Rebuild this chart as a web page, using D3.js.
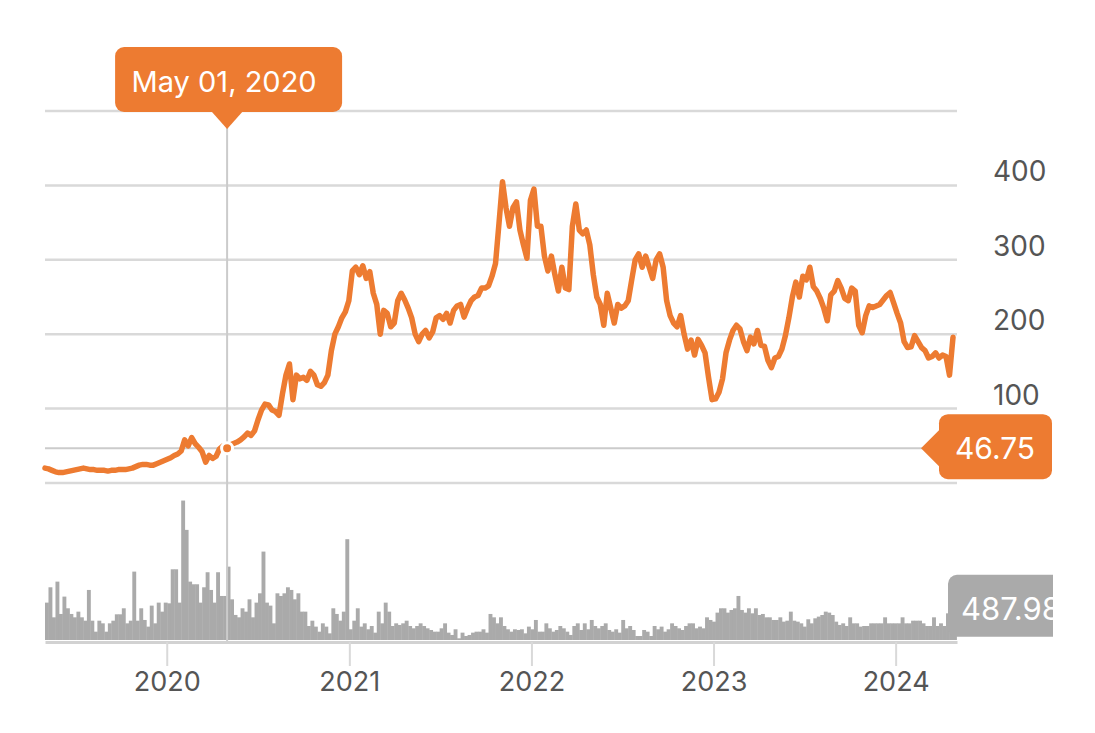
<!DOCTYPE html>
<html><head><meta charset="utf-8">
<script src="https://cdn.jsdelivr.net/npm/d3@7"></script>
<style>html,body{margin:0;padding:0;background:#fff;} svg{display:block;font-family:Inter,"Open Sans",sans-serif;}</style>
</head><body>
<svg id="chart" width="1095" height="733"></svg>
<script>
// ---- data (weekly, starting at startDate) ----
const startDate = "2019-05-02";
const endDate = "2024-05-03";
const priceValues = [
20,19,17,15,14,14,15,16,17,18,
19,20,19,18,18,17,17,17,16,17,
17,18,18,18,19,20,22,24,25,25,
24,24,26,28,30,32,34,37,39,43,
58,50,61,53,48,42,28,37,33,36,
46,50,46.75,51,53,55,58,62,67,64,
70,85,98,106,105,98,96,91,120,145,
160,112,145,140,142,138,150,145,132,130,
135,145,178,200,210,222,230,245,285,290,
280,292,275,284,255,240,200,232,228,210,
215,245,255,246,235,222,200,190,200,205,
195,203,222,225,220,228,215,232,238,240,
223,235,245,250,252,262,262,265,278,295,
349,405,370,345,370,378,340,320,302,380,
395,345,345,305,285,305,280,258,290,262,
260,345,375,340,335,340,320,280,250,240,
212,255,235,215,240,235,238,245,273,300,
308,290,305,290,275,300,308,290,245,225,
215,210,225,200,180,192,172,193,185,175,
142,112,113,122,140,175,192,205,212,207,
190,178,196,187,205,185,184,165,155,168,
170,180,198,222,250,270,250,278,273,290,
264,258,248,235,218,253,258,272,262,248,
245,262,258,212,202,225,238,236,238,240,
246,252,256,242,228,215,190,182,183,198,
190,182,178,168,170,175,168,172,170,145,
196];
const volumeValues = [
534,753,324,834,372,620,453,372,324,405,
324,276,715,276,119,276,238,119,238,276,
367,367,453,238,276,977,276,453,286,191,
491,238,534,405,534,524,1010,1010,534,1992,
1573,834,796,796,534,753,968,715,534,968,
629,629,1048,581,358,324,453,405,581,324,
534,667,1263,534,491,238,667,629,667,753,
715,581,667,405,405,200,276,191,119,238,
191,95,453,372,276,405,1440,153,276,453,
191,238,153,
200,105,405,238,534,405,200,238,215,238,
276,200,167,200,238,200,167,143,119,119,
167,238,105,72,153,24,105,57,72,105,
119,119,153,105,372,324,238,324,200,153,
119,153,143,153,95,191,153,286,119,119,
238,167,119,143,200,167,119,72,200,238,
143,238,153,286,200,167,200,238,143,119,
153,105,286,167,200,143,57,57,143,119,
57,200,153,191,119,153,238,200,167,143,
200,238,
238,167,191,167,324,286,262,391,453,453,
391,429,453,629,429,391,453,381,453,357,
372,324,324,286,286,324,262,276,405,276,
262,238,191,296,238,310,334,357,405,391,
357,262,215,238,200,324,238,238,191,200,
200,238,238,238,238,324,238,238,238,238,
324,238,238,276,276,276,238,200,200,324,
200,238,200,381,262,238];
const gridValues = [0,100,200,300,400,500];
const priceTicks = [100,200,300,400];
const yearTicks = ["2020-01-01","2021-01-01","2022-01-01","2023-01-01","2024-01-01"];
const hoverDate = "2020-05-01";
const hoverLabel = "May 01, 2020";
const hoverPrice = 46.75;
const hoverVolume = 487.98;

// ---- drawing ----
const ORANGE = "#ED7B31", GRID = "#d9d9d9", VOL = "#aaaaaa", TXT = "#555555";
const parse = d3.utcParse("%Y-%m-%d");
const svg = d3.select("#chart");
const x = d3.scaleUtc().domain([parse(startDate), parse(endDate)]).range([45, 957]);
const y = d3.scaleLinear().domain([0, 500]).range([483, 111]);
const yv = d3.scaleLinear().domain([0, 2000]).range([640, 500]);
const week = i => d3.utcDay.offset(parse(startDate), 7 * i);

svg.append("defs").append("clipPath").attr("id", "outer")
  .append("rect").attr("x", 0).attr("y", 0).attr("width", 1053).attr("height", 733);

// grid
svg.append("g").selectAll("line").data(gridValues).join("line")
  .attr("x1", 45).attr("x2", 957).attr("y1", d => y(d)).attr("y2", d => y(d))
  .attr("stroke", GRID).attr("stroke-width", 2.5);

// y labels
svg.append("g").selectAll("text").data(priceTicks).join("text")
  .attr("x", 993).attr("y", d => y(d) - 4)
  .attr("font-size", 28).attr("fill", TXT).text(d => d);

// volume bars
svg.append("g").selectAll("rect").data(volumeValues).join("rect")
  .attr("x", (d, i) => x(week(i)))
  .attr("width", (d, i) => Math.max(0, Math.min(957, x(week(i + 1))) - x(week(i)) + 0.4))
  .attr("y", d => yv(d)).attr("height", d => 640 - yv(d))
  .attr("fill", VOL);

// x axis
const xAxis = d3.axisBottom(x).tickValues(yearTicks.map(parse))
  .tickFormat(d3.utcFormat("%Y")).tickSize(24).tickSizeOuter(0).tickPadding(6);
const ax = svg.append("g").attr("transform", "translate(0,642)").call(xAxis);
ax.select(".domain").attr("stroke", "#d2d2d2").attr("stroke-width", 3);
ax.selectAll(".tick line").attr("stroke", "#d9d9d9").attr("stroke-width", 2);
ax.selectAll(".tick text").attr("font-size", 27).attr("fill", TXT)
  .attr("font-family", "Inter, 'Open Sans', sans-serif");

// crosshair
const hx = x(parse(hoverDate)), hy = y(hoverPrice);
svg.append("line").attr("x1", hx).attr("x2", hx).attr("y1", 125).attr("y2", 641)
  .attr("stroke", "#cbcbcb").attr("stroke-width", 2);
svg.append("line").attr("x1", 45).attr("x2", 930).attr("y1", hy).attr("y2", hy)
  .attr("stroke", "#cbcbcb").attr("stroke-width", 2);

// price line
const pts = priceValues.map((v, i) => ({ d: week(i), v }));
svg.append("path").datum(pts)
  .attr("d", d3.line().x(p => x(p.d)).y(p => y(p.v)))
  .attr("fill", "none").attr("stroke", ORANGE).attr("stroke-width", 5.5)
  .attr("stroke-linejoin", "round").attr("stroke-linecap", "round");

// hover dot
svg.append("circle").attr("cx", hx).attr("cy", hy).attr("r", 5.5)
  .attr("fill", ORANGE).attr("stroke", "#fff").attr("stroke-width", 3);

// date tooltip
const tt = svg.append("g");
tt.append("rect").attr("x", hx - 112).attr("y", 47).attr("width", 227).attr("height", 65)
  .attr("rx", 9).attr("fill", ORANGE);
tt.append("path").attr("d", `M${hx - 16},111 L${hx + 16},111 L${hx},129 Z`).attr("fill", ORANGE);
tt.append("text").attr("x", hx - 3).attr("y", 92).attr("text-anchor", "middle")
  .attr("font-size", 29).attr("fill", "#fff").text(hoverLabel);

// labels at the right, clipped
const rl = svg.append("g").attr("clip-path", "url(#outer)");
rl.append("rect").attr("x", 939).attr("y", hy - 34).attr("width", 113).attr("height", 65)
  .attr("rx", 9).attr("fill", ORANGE);
rl.append("path").attr("d", `M940,${hy - 19} L940,${hy + 19} L921,${hy} Z`).attr("fill", ORANGE);
rl.append("text").attr("x", 995).attr("y", hy + 11).attr("text-anchor", "middle")
  .attr("font-size", 30).attr("fill", "#fff").text(hoverPrice.toFixed(2));

const vy = yv(hoverVolume);
rl.append("rect").attr("x", 948).attr("y", vy - 31).attr("width", 130).attr("height", 62)
  .attr("rx", 9).attr("fill", VOL);
rl.append("text").attr("x", 961).attr("y", vy + 14)
  .attr("font-size", 31).attr("fill", "#fff").text(hoverVolume.toFixed(2));
</script>
</body></html>
